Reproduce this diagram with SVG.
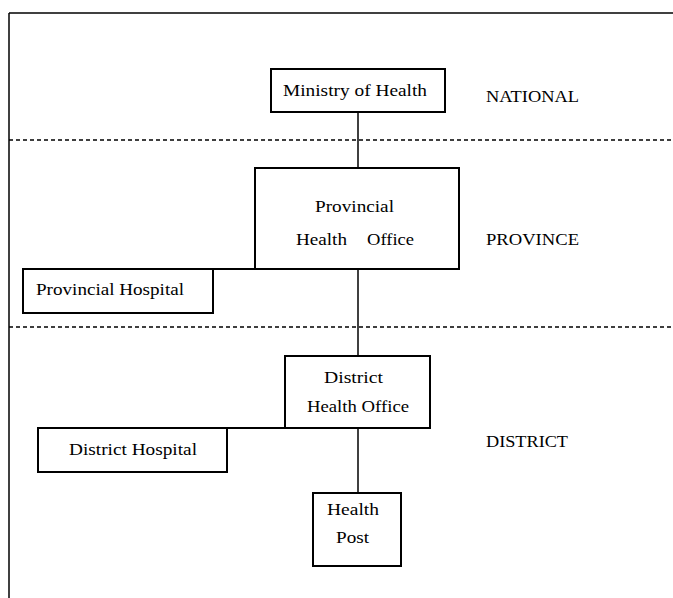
<svg xmlns="http://www.w3.org/2000/svg" width="673" height="598" viewBox="0 0 673 598">
<style>
.box{fill:#fff;stroke:#000;stroke-width:2}
.ln{stroke:#000;stroke-width:1.5;fill:none}
.dash{stroke:#000;stroke-width:1.3;stroke-dasharray:4 3;fill:none}
text{font-family:"Liberation Serif","Times New Roman",serif;font-size:17px;fill:#000}
</style>
<rect width="673" height="598" fill="#fff"/>
<g id="frame">
<line class="ln" x1="9" y1="13" x2="673" y2="13"/>
<line class="ln" x1="9" y1="13" x2="9" y2="598"/>
<line class="dash" x1="9" y1="140" x2="673" y2="140"/>
<line class="dash" x1="9" y1="327" x2="673" y2="327"/>
</g>
<g id="connectors">
<line class="ln" x1="358" y1="112" x2="358" y2="168"/>
<line class="ln" x1="358" y1="269" x2="358" y2="356"/>
<line class="ln" x1="358" y1="428" x2="358" y2="493"/>
<line class="ln" x1="23" y1="269" x2="459" y2="269" style="stroke-width:2"/>
<line class="ln" x1="38" y1="428" x2="430" y2="428" style="stroke-width:2"/>
</g>
<g id="ministry">
<rect class="box" x="271" y="69" width="174" height="43"/>
<text x="283" y="96" textLength="144" lengthAdjust="spacingAndGlyphs">Ministry of Health</text>
</g>
<g id="pho">
<rect class="box" x="255" y="168" width="204" height="101"/>
<text x="315" y="212" textLength="79" lengthAdjust="spacingAndGlyphs">Provincial</text>
<text x="296" y="245" textLength="51" lengthAdjust="spacingAndGlyphs">Health</text>
<text x="367" y="245" textLength="47" lengthAdjust="spacingAndGlyphs">Office</text>
</g>
<g id="prov-hospital">
<rect class="box" x="23" y="269" width="190" height="44"/>
<text x="36" y="295" textLength="148" lengthAdjust="spacingAndGlyphs">Provincial Hospital</text>
</g>
<g id="dho">
<rect class="box" x="285" y="356" width="145" height="72"/>
<text x="324" y="383" textLength="59" lengthAdjust="spacingAndGlyphs">District</text>
<text x="307" y="412" textLength="102" lengthAdjust="spacingAndGlyphs">Health Office</text>
</g>
<g id="dist-hospital">
<rect class="box" x="38" y="428" width="189" height="44"/>
<text x="69" y="455" textLength="128" lengthAdjust="spacingAndGlyphs">District Hospital</text>
</g>
<g id="health-post">
<rect class="box" x="313" y="493" width="88" height="73"/>
<text x="327" y="515" textLength="52" lengthAdjust="spacingAndGlyphs">Health</text>
<text x="336" y="543" textLength="33" lengthAdjust="spacingAndGlyphs">Post</text>
</g>
<g id="levels">
<text x="486" y="102" textLength="93" lengthAdjust="spacingAndGlyphs">NATIONAL</text>
<text x="486" y="245" textLength="93" lengthAdjust="spacingAndGlyphs">PROVINCE</text>
<text x="486" y="447" textLength="82" lengthAdjust="spacingAndGlyphs">DISTRICT</text>
</g>
</svg>
